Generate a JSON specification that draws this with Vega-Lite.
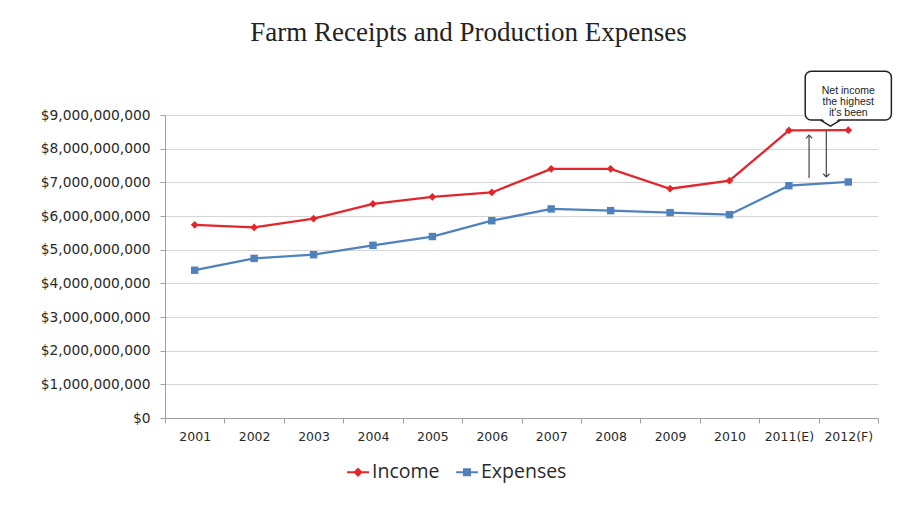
{
  "$schema": "https://vega.github.io/schema/vega-lite/v6.json",
  "width": 713,
  "height": 303,
  "autosize": "none",
  "padding": {"left": 165, "top": 115, "right": 43, "bottom": 112},
  "background": "white",
  "title": {
    "text": "Farm Receipts and Production Expenses",
    "font": "Liberation Serif",
    "fontSize": 27,
    "fontWeight": "normal",
    "color": "#222222",
    "anchor": "middle",
    "frame": "group",
    "dx": -53,
    "offset": 23
  },
  "config": {
    "view": {"stroke": null},
    "font": "Open Sans"
  },
  "encoding": {
    "x": {
      "field": "year",
      "type": "ordinal",
      "sort": null,
      "scale": {
        "type": "band",
        "paddingInner": 0,
        "paddingOuter": 0,
        "domain": ["2001", "2002", "2003", "2004", "2005", "2006", "2007", "2008", "2009", "2010", "2011(E)", "2012(F)"]
      },
      "axis": {
        "title": null,
        "labelAngle": 0,
        "tickBand": "extent",
        "domainColor": "#a0a0a0",
        "tickColor": "#a0a0a0",
        "tickSize": 5,
        "labelPadding": 7,
        "labelFont": "DejaVu Sans",
        "labelFontSize": 12.5,
        "labelColor": "#2a2a2a",
        "grid": false
      }
    },
    "y": {
      "field": "value",
      "type": "quantitative",
      "scale": {"domain": [0, 9000000000], "nice": false},
      "axis": {
        "title": null,
        "format": "$,.0f",
        "values": [0, 1000000000, 2000000000, 3000000000, 4000000000, 5000000000, 6000000000, 7000000000, 8000000000, 9000000000],
        "grid": true,
        "gridColor": "#d6d6d6",
        "domainColor": "#a0a0a0",
        "tickColor": "#a0a0a0",
        "tickSize": 5,
        "labelPadding": 10,
        "labelFont": "DejaVu Sans",
        "labelFontSize": 13.8,
        "labelColor": "#2a2a2a"
      }
    }
  },
  "layer": [
    {
      "data": {
        "values": [
          {"year": "2001", "series": "Income", "value": 5740000000},
          {"year": "2002", "series": "Income", "value": 5660000000},
          {"year": "2003", "series": "Income", "value": 5920000000},
          {"year": "2004", "series": "Income", "value": 6360000000},
          {"year": "2005", "series": "Income", "value": 6570000000},
          {"year": "2006", "series": "Income", "value": 6700000000},
          {"year": "2007", "series": "Income", "value": 7400000000},
          {"year": "2008", "series": "Income", "value": 7400000000},
          {"year": "2009", "series": "Income", "value": 6810000000},
          {"year": "2010", "series": "Income", "value": 7050000000},
          {"year": "2011(E)", "series": "Income", "value": 8540000000},
          {"year": "2012(F)", "series": "Income", "value": 8550000000},
          {"year": "2001", "series": "Expenses", "value": 4390000000},
          {"year": "2002", "series": "Expenses", "value": 4740000000},
          {"year": "2003", "series": "Expenses", "value": 4850000000},
          {"year": "2004", "series": "Expenses", "value": 5130000000},
          {"year": "2005", "series": "Expenses", "value": 5390000000},
          {"year": "2006", "series": "Expenses", "value": 5860000000},
          {"year": "2007", "series": "Expenses", "value": 6210000000},
          {"year": "2008", "series": "Expenses", "value": 6160000000},
          {"year": "2009", "series": "Expenses", "value": 6100000000},
          {"year": "2010", "series": "Expenses", "value": 6040000000},
          {"year": "2011(E)", "series": "Expenses", "value": 6900000000},
          {"year": "2012(F)", "series": "Expenses", "value": 7010000000}
        ]
      },
      "layer": [
        {
          "mark": {"type": "line", "strokeWidth": 2.25},
          "encoding": {
            "color": {
              "field": "series",
              "type": "nominal",
              "scale": {"domain": ["Income", "Expenses"], "range": ["#e2262b", "#4f81bd"]},
              "legend": {
                "title": null,
                "orient": "none",
                "legendX": 181,
                "legendY": 345,
                "direction": "horizontal",
                "labelFont": "Open Sans",
                "labelFontSize": 19.5,
                "labelColor": "#2a2a2a",
                "symbolSize": 480,
                "symbolStrokeWidth": 2,
                "columnPadding": 12,
                "labelOffset": 2,
                "encode": {
                  "symbols": {
                    "update": {
                      "shape": {"signal": "datum.value === 'Income' ? 'M-1,0H1M0,-0.3L0.3,0L0,0.3L-0.3,0Z' : 'M-1,0H1M-0.28,-0.28H0.28V0.28H-0.28Z'"},
                      "fill": {"signal": "datum.value === 'Income' ? '#e2262b' : '#4f81bd'"},
                      "fillOpacity": {"value": 1}
                    }
                  }
                }
              }
            }
          }
        },
        {
          "mark": {"type": "point", "filled": true, "opacity": 1},
          "encoding": {
            "color": {"field": "series", "type": "nominal", "legend": null},
            "shape": {"condition": {"test": "datum.series === 'Income'", "value": "diamond"}, "value": "square"},
            "size": {"condition": {"test": "datum.series === 'Income'", "value": 60}, "value": 55}
          }
        }
      ]
    },
    {
      "data": {"values": [{"year": "2011(E)", "value": 7130000000, "value2": 8400000000}]},
      "layer": [
        {
          "mark": {"type": "rule", "color": "#444444", "strokeWidth": 1.2},
          "encoding": {
            "x": {"field": "year", "type": "ordinal", "bandPosition": 0.84},
            "y2": {"field": "value2"}
          }
        },
        {
          "mark": {"type": "point", "shape": "M-1,1L0,0L1,1", "filled": false, "color": "#444444", "strokeWidth": 1.2, "size": 40, "opacity": 1},
          "encoding": {
            "x": {"field": "year", "type": "ordinal", "bandPosition": 0.84},
            "y": {"field": "value2", "type": "quantitative"}
          }
        }
      ]
    },
    {
      "data": {"values": [{"year": "2012(F)", "value": 8550000000, "value2": 7160000000}]},
      "layer": [
        {
          "mark": {"type": "rule", "color": "#444444", "strokeWidth": 1.2},
          "encoding": {
            "x": {"field": "year", "type": "ordinal", "bandPosition": 0.13},
            "y2": {"field": "value2"}
          }
        },
        {
          "mark": {"type": "point", "shape": "M-1,-1L0,0L1,-1", "filled": false, "color": "#444444", "strokeWidth": 1.2, "size": 40, "opacity": 1},
          "encoding": {
            "x": {"field": "year", "type": "ordinal", "bandPosition": 0.13},
            "y": {"field": "value2", "type": "quantitative"}
          }
        }
      ]
    },
    {
      "data": {"values": [{"year": "2012(F)", "value": 8850000000, "value2": 10300000000}]},
      "layer": [
        {
          "mark": {"type": "rect", "width": {"band": 1.45}, "cornerRadius": 6, "fill": "white", "stroke": "#222222", "strokeWidth": 1.5},
          "encoding": {
            "y2": {"field": "value2"}
          }
        },
        {
          "mark": {"type": "point", "shape": "M-0.9,-0.15L0,0.55L0.9,-0.15Z", "filled": true, "color": "white", "size": 400, "opacity": 1},
          "encoding": {
            "x": {"field": "year", "type": "ordinal", "bandPosition": 0.2}
          }
        },
        {
          "mark": {"type": "point", "shape": "M-1,0L0,0.6L1,0", "filled": false, "color": "#222222", "strokeWidth": 1.5, "size": 400, "opacity": 1},
          "encoding": {
            "x": {"field": "year", "type": "ordinal", "bandPosition": 0.2}
          }
        }
      ]
    },
    {
      "data": {"values": [{"year": "2012(F)", "value": 9710000000, "label": "Net income\nthe highest\nit's been"}]},
      "mark": {"type": "text", "lineBreak": "\n", "font": "Liberation Sans", "fontSize": 10.5, "lineHeight": 11, "color": "#222222", "align": "center", "baseline": "middle"},
      "encoding": {
        "text": {"field": "label"}
      }
    }
  ]
}
